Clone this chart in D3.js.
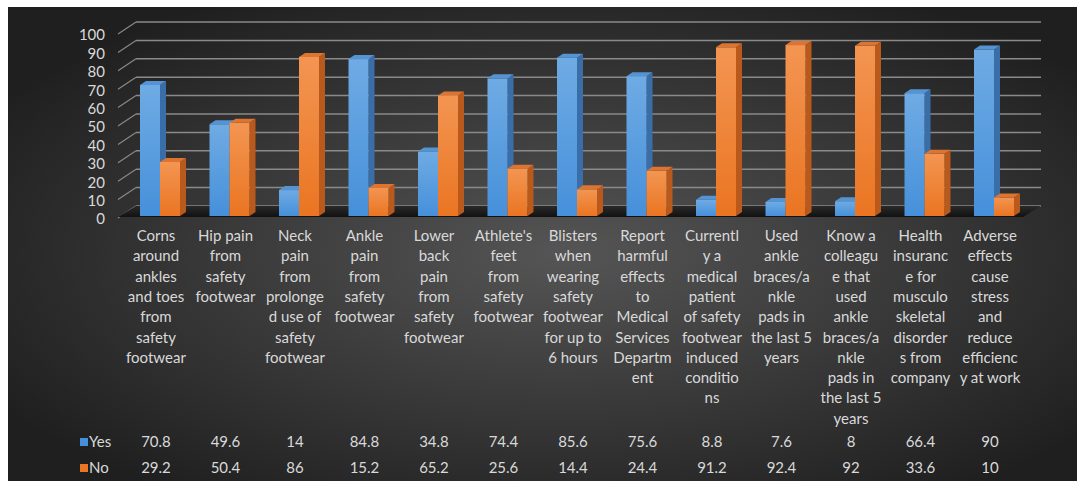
<!doctype html>
<html lang="en">
  <head>
    <meta charset="utf-8">
    <script src="https://cdn.jsdelivr.net/npm/d3@7"></script>
    <style>
      html, body {margin:0; padding:0; background:#fff}
      svg {display:block}
      text {font-family: Lato, 'Open Sans', sans-serif; fill:#d9d9d9}
    </style>
    <title>Safety footwear survey</title>
  </head>
  <body>
    <script>
      // categories, "|" marks the line breaks as wrapped in the original
      const categories = [
        "Corns|around|ankles|and toes|from|safety|footwear",
        "Hip pain|from|safety|footwear",
        "Neck|pain|from|prolonge|d use of|safety|footwear",
        "Ankle|pain|from|safety|footwear",
        "Lower|back|pain|from|safety|footwear",
        "Athlete's|feet|from|safety|footwear",
        "Blisters|when|wearing|safety|footwear|for up to|6 hours",
        "Report|harmful|effects|to|Medical|Services|Departm|ent",
        "Currentl|y a|medical|patient|of safety|footwear|induced|conditio|ns",
        "Used|ankle|braces/a|nkle|pads in|the last 5|years",
        "Know a|colleagu|e that|used|ankle|braces/a|nkle|pads in|the last 5|years",
        "Health|insuranc|e for|musculo|skeletal|disorder|s from|company",
        "Adverse|effects|cause|stress|and|reduce|efficienc|y at work"
      ];
      const seriesNames = ["Yes", "No"];
      const yesValues = [70.8, 49.6, 14, 84.8, 34.8, 74.4, 85.6, 75.6, 8.8, 7.6, 8, 66.4, 90];
      const noValues = [29.2, 50.4, 86, 15.2, 65.2, 25.6, 14.4, 24.4, 91.2, 92.4, 92, 33.6, 10];
      const yTicks = [0, 10, 20, 30, 40, 50, 60, 70, 80, 90, 100];

      const W = 1077, H = 481;
      const dx = 6, dy = -4;          // bar depth
      const colors = {
        Yes: {light:"#6fabe4", dark:"#4690da", side:"#3a6ea8", top:"#5594d4"},
        No:  {light:"#f39552", dark:"#ea7522", side:"#b9591c", top:"#dd7431"}
      };

      let svg = d3.select("body").append("svg")
        .attr("width", W)
        .attr("height", H);

      let defs = svg.append("defs");
      let bg = defs.append("radialGradient").attr("id", "bg")
        .attr("cx", "52%").attr("cy", "52%").attr("r", "62%");
      bg.append("stop").attr("offset", "0%").attr("stop-color", "#555555");
      bg.append("stop").attr("offset", "100%").attr("stop-color", "#1f1f1f");

      seriesNames.forEach(function(s) {
        let g = defs.append("linearGradient").attr("id", "grad" + s)
          .attr("x1", 0).attr("y1", 0).attr("x2", 0).attr("y2", 1);
        g.append("stop").attr("offset", "0%").attr("stop-color", colors[s].light);
        g.append("stop").attr("offset", "100%").attr("stop-color", colors[s].dark);
      });

      let floorGrad = defs.append("linearGradient").attr("id", "floor")
        .attr("x1", 0).attr("y1", 0).attr("x2", 0).attr("y2", 1);
      floorGrad.append("stop").attr("offset", "0%").attr("stop-color", "#2a2a2a");
      floorGrad.append("stop").attr("offset", "100%").attr("stop-color", "#111111");

      svg.append("rect")
        .attr("x", 8).attr("y", 7)
        .attr("width", W - 8).attr("height", H - 7)
        .attr("fill", "url(#bg)");

      // scales
      let x = d3.scaleBand()
        .domain(d3.range(categories.length))
        .range([125.25, 1028.75]);
      let xSub = d3.scaleBand()
        .domain(seriesNames)
        .range([-20, 20]);
      let yBar = d3.scaleLinear().domain([0, 100]).range([216, 31]);
      let yWall = d3.scaleLinear().domain([0, 100]).range([206, 22]);
      let yLabel = d3.scaleLinear().domain([0, 100]).range([219, 35]);

      // back wall gridlines + side wall diagonals
      let grid = svg.append("g");
      grid.selectAll("line.h")
        .data(yTicks)
        .enter()
        .append("line")
        .attr("x1", 136).attr("x2", 1041)
        .attr("y1", (d) => yWall(d)).attr("y2", (d) => yWall(d))
        .attr("stroke", "#8a8a8a")
        .attr("stroke-width", 1.5);
      grid.selectAll("line.d")
        .data(yTicks)
        .enter()
        .append("line")
        .attr("x1", 118).attr("x2", 136)
        .attr("y1", (d) => yLabel(d) - 1).attr("y2", (d) => yWall(d))
        .attr("stroke", "#8a8a8a")
        .attr("stroke-width", 1.2);

      // floor
      svg.append("path")
        .attr("d", "M118," + (yBar(0) + 1) + "L136," + yWall(0) + "L1041," + yWall(0) + "L1023," + (yBar(0) + 1) + "Z")
        .attr("fill", "url(#floor)");

      // bars
      let rows = categories.map((c, i) => ({i: i, Yes: yesValues[i], No: noValues[i]}));
      let groups = svg.selectAll("g.cat")
        .data(rows)
        .enter()
        .append("g")
        .attr("transform", (d) => "translate(" + (x(d.i) + x.bandwidth() / 2) + ",0)");

      seriesNames.forEach(function(s) {
        let x0 = xSub(s), bw = xSub.bandwidth(), base = yBar(0);
        groups.append("path")
          .attr("fill", colors[s].side)
          .attr("d", (d) => {
            let t = yBar(d[s]);
            return "M" + (x0 + bw) + "," + t + "L" + (x0 + bw + dx) + "," + (t + dy) +
              "L" + (x0 + bw + dx) + "," + (base + dy) + "L" + (x0 + bw) + "," + base + "Z";
          });
        groups.append("rect")
          .attr("x", x0)
          .attr("y", (d) => yBar(d[s]))
          .attr("width", bw)
          .attr("height", (d) => base - yBar(d[s]))
          .attr("fill", "url(#grad" + s + ")");
        groups.append("path")
          .attr("fill", colors[s].top)
          .attr("d", (d) => {
            let t = yBar(d[s]);
            return "M" + x0 + "," + t + "L" + (x0 + dx) + "," + (t + dy) +
              "L" + (x0 + bw + dx) + "," + (t + dy) + "L" + (x0 + bw) + "," + t + "Z";
          });
      });

      // y axis labels
      let yAxis = d3.axisLeft(yLabel).tickValues(yTicks).tickSize(0).tickPadding(0);
      let yAxisG = svg.append("g")
        .attr("transform", "translate(105,0)")
        .call(yAxis);
      yAxisG.select(".domain").remove();
      yAxisG.selectAll("text")
        .attr("fill", "#d9d9d9")
        .style("font-family", "Lato, sans-serif")
        .style("font-size", "15px");

      // category labels
      let labelX = (i) => x(i) + x.bandwidth() / 2 - 4;
      let catText = svg.selectAll("text.cat")
        .data(categories)
        .enter()
        .append("text")
        .attr("class", "cat")
        .attr("text-anchor", "middle")
        .attr("font-size", "15px")
        .attr("y", 241);
      catText.selectAll("tspan")
        .data((d, i) => d.split("|").map((line) => ({line: line, i: i})))
        .enter()
        .append("tspan")
        .attr("x", (d) => labelX(d.i))
        .attr("dy", (d, j) => j == 0 ? 0 : 20.3)
        .text((d) => d.line);

      // data table
      let tableY = {Yes: 447, No: 473};
      let values = {Yes: yesValues, No: noValues};
      seriesNames.forEach(function(s) {
        svg.append("rect")
          .attr("x", 80).attr("y", tableY[s] - 9)
          .attr("width", 8).attr("height", 8)
          .attr("fill", colors[s].dark);
        svg.append("text")
          .attr("x", 89).attr("y", tableY[s])
          .attr("font-size", "15px")
          .text(s);
        svg.selectAll("text.v" + s)
          .data(values[s])
          .enter()
          .append("text")
          .attr("text-anchor", "middle")
          .attr("font-size", "15px")
          .attr("x", (d, i) => labelX(i))
          .attr("y", tableY[s])
          .text((d) => d);
      });
    </script>
  </body>
</html>
